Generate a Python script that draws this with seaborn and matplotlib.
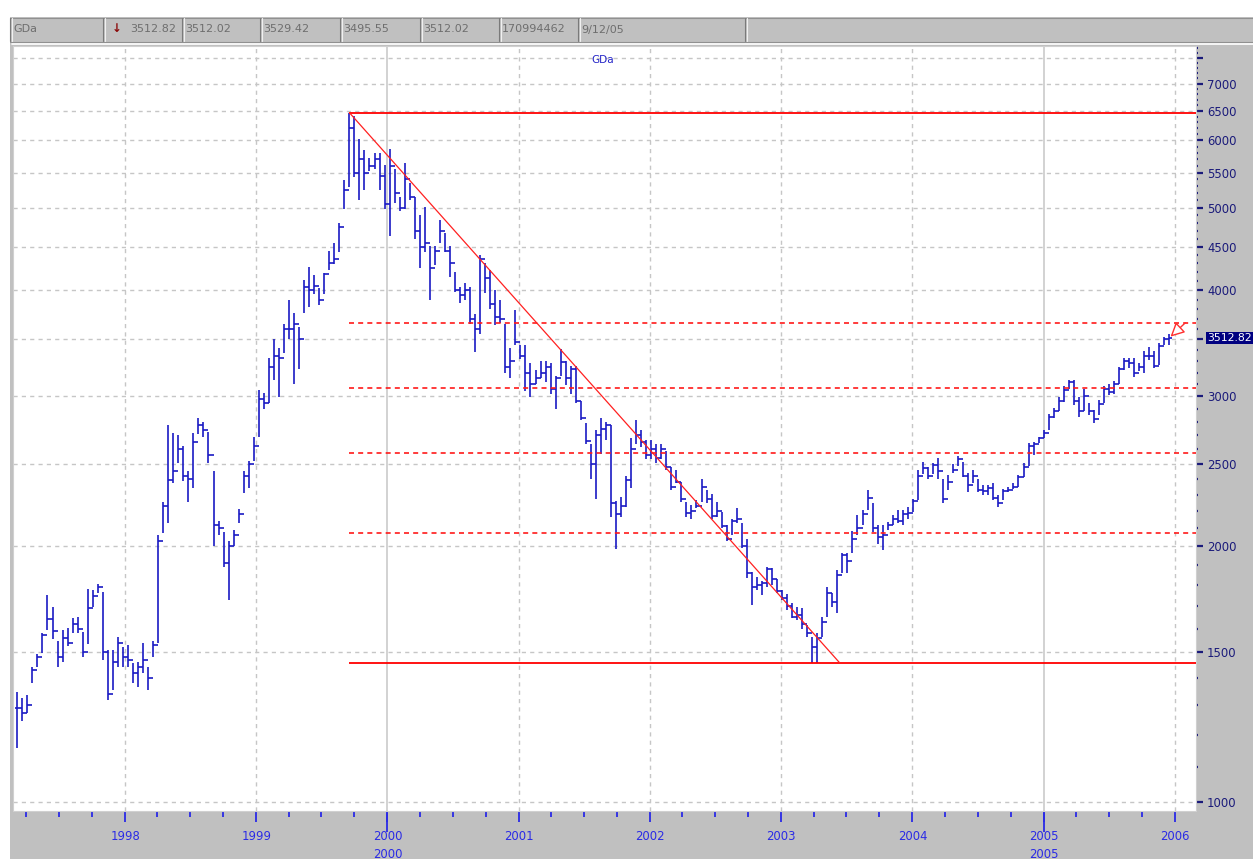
import numpy as np
import pandas as pd
import seaborn as sns
import matplotlib.pyplot as plt
import matplotlib.dates as mdates
from matplotlib import font_manager, ticker
from matplotlib.patches import Rectangle
from matplotlib.lines import Line2D

sns.set_theme(style='white')

names = {f.name for f in font_manager.fontManager.ttflist}
if 'Liberation Sans Narrow' in names:
    FONT, FS = 'Liberation Sans Narrow', 11
else:
    FONT, FS = 'DejaVu Sans', 8.4
plt.rcParams['font.family'] = [FONT, 'DejaVu Sans']

# --- data: bi-weekly bars ---
start_date = '1997-03-07'

high = [1347, 1324, 1335, 1443, 1495, 1579, 1752, 1697, 1548, 1594,
        1603, 1644, 1652, 1587, 1782, 1774, 1806, 1767, 1510, 1510,
        1565, 1522, 1530, 1456, 1462, 1537, 1443, 1545, 2060, 2255,
        2780, 2716, 2705, 2620, 2450, 2716, 2830, 2800, 2725, 2450,
        2140, 2080, 2030, 2090, 2210, 2450, 2520, 2690, 3050, 3030,
        3330, 3500, 3420, 3650, 3896, 3760, 3620, 4110, 4265, 4170,
        4020, 4190, 4450, 4550, 4800, 5390, 6470, 6420, 6030, 5848,
        5720, 5800, 5800, 5620, 5860, 5550, 5150, 5650, 5350, 5150,
        4900, 5010, 4510, 4510, 4840, 4670, 4510, 4205, 4040, 4077,
        4040, 3755, 4400, 4305, 4230, 4000, 3900, 3650, 3420, 3790,
        3445, 3445, 3285, 3220, 3300, 3300, 3285, 3170, 3410, 3300,
        3255, 3255, 2960, 2790, 2640, 2740, 2830, 2800, 2780, 2260,
        2286, 2415, 2680, 2815, 2740, 2665, 2665, 2640, 2640, 2590,
        2480, 2460, 2380, 2255, 2235, 2265, 2400, 2330, 2305, 2255,
        2195, 2117, 2155, 2215, 2128, 2040, 1866, 1840, 1820, 1890,
        1885, 1830, 1775, 1758, 1713, 1697, 1690, 1615, 1565, 1580,
        1652, 1790, 1760, 1875, 1961, 1961, 2085, 2175, 2205, 2330,
        2245, 2117, 2117, 2137, 2175, 2205, 2205, 2225, 2275, 2458,
        2510, 2480, 2505, 2540, 2400, 2425, 2495, 2550, 2515, 2435,
        2455, 2400, 2360, 2360, 2370, 2296, 2337, 2348, 2370, 2425,
        2505, 2642, 2655, 2690, 2740, 2860, 2905, 2995, 3085, 3140,
        3140, 2995, 3060, 2950, 2893, 2975, 3085, 3100, 3125, 3250,
        3330, 3330, 3330, 3280, 3395, 3425, 3395, 3470, 3520, 3550]

low = [1157, 1244, 1272, 1379, 1443, 1497, 1594, 1556, 1443, 1460,
       1525, 1579, 1579, 1482, 1534, 1697, 1760, 1470, 1318, 1355,
       1443, 1443, 1443, 1379, 1366, 1418, 1355, 1480, 1540, 2071,
       2130, 2370, 2505, 2385, 2255, 2340, 2710, 2690, 2505, 2000,
       2060, 1890, 1728, 2000, 2130, 2310, 2340, 2520, 2690, 2900,
       2950, 3140, 2995, 3370, 3500, 3100, 3230, 3760, 3820, 3960,
       3840, 3960, 4230, 4290, 4430, 4990, 5290, 5430, 5108, 5250,
       5520, 5550, 5250, 4990, 4630, 5060, 4960, 4990, 5108, 4590,
       4245, 4430, 3896, 4280, 4540, 4430, 4150, 3985, 3860, 3896,
       3650, 3380, 3556, 3970, 3800, 3640, 3660, 3195, 3150, 3445,
       3320, 3045, 2995, 3105, 3150, 3120, 3020, 2900, 3170, 3090,
       3020, 2950, 2815, 2640, 2400, 2275, 2570, 2665, 2165, 1987,
       2165, 2225, 2340, 2640, 2616, 2530, 2530, 2506, 2530, 2460,
       2330, 2370, 2255, 2165, 2155, 2215, 2255, 2245, 2155, 2165,
       2100, 2030, 2060, 2128, 1990, 1835, 1705, 1775, 1750, 1790,
       1800, 1760, 1730, 1680, 1645, 1637, 1600, 1565, 1457, 1457,
       1565, 1652, 1698, 1668, 1860, 1860, 1961, 2060, 2117, 2205,
       2078, 2010, 1980, 2090, 2117, 2128, 2117, 2155, 2195, 2265,
       2430, 2400, 2430, 2400, 2250, 2330, 2440, 2485, 2413, 2316,
       2370, 2316, 2296, 2296, 2265, 2226, 2265, 2316, 2337, 2348,
       2413, 2485, 2560, 2642, 2680, 2740, 2830, 2880, 2955, 3060,
       2930, 2840, 2880, 2850, 2790, 2855, 2945, 3010, 3020, 3100,
       3225, 3240, 3164, 3215, 3195, 3311, 3240, 3270, 3450, 3450]

close = [1289, 1272, 1300, 1430, 1480, 1570, 1640, 1590, 1480, 1560,
         1540, 1620, 1600, 1500, 1690, 1745, 1790, 1500, 1340, 1460,
         1540, 1480, 1470, 1420, 1440, 1470, 1400, 1530, 2030, 2230,
         2395, 2450, 2600, 2420, 2400, 2650, 2780, 2740, 2560, 2120,
         2100, 1910, 2000, 2060, 2180, 2420, 2500, 2620, 2980, 2950,
         3250, 3350, 3330, 3600, 3600, 3650, 3500, 4030, 4000, 4050,
         3900, 4180, 4300, 4350, 4750, 5250, 6200, 5500, 5700, 5500,
         5600, 5700, 5450, 5050, 5600, 5200, 5000, 5400, 5150, 4700,
         4500, 4550, 4250, 4450, 4700, 4450, 4300, 4000, 3950, 4000,
         3700, 3600, 4350, 4130, 3850, 3720, 3700, 3250, 3300, 3480,
         3350, 3200, 3100, 3150, 3200, 3250, 3060, 3150, 3290, 3150,
         3230, 2960, 2830, 2660, 2500, 2700, 2750, 2780, 2250, 2180,
         2230, 2390, 2600, 2700, 2650, 2560, 2600, 2540, 2600, 2480,
         2350, 2380, 2270, 2190, 2200, 2230, 2350, 2270, 2170, 2200,
         2110, 2040, 2140, 2150, 2000, 1860, 1790, 1800, 1810, 1880,
         1830, 1770, 1740, 1700, 1650, 1660, 1620, 1580, 1520, 1560,
         1630, 1760, 1720, 1850, 1950, 1920, 2040, 2100, 2180, 2280,
         2100, 2050, 2060, 2120, 2150, 2140, 2180, 2190, 2260, 2420,
         2470, 2420, 2490, 2450, 2270, 2380, 2460, 2530, 2420, 2360,
         2420, 2330, 2320, 2340, 2280, 2250, 2320, 2330, 2350, 2410,
         2480, 2620, 2640, 2680, 2720, 2840, 2880, 2960, 3050, 3120,
         2960, 2880, 3000, 2880, 2820, 2940, 3060, 3040, 3100, 3230,
         3300, 3280, 3200, 3250, 3350, 3350, 3260, 3440, 3500, 3512.82]

trend_end = '2003-06-13'
fib_ratios = [0.236, 0.382, 0.5, 0.618]

header_fields = ['GDa', '3512.82', '3512.02', '3529.42', '3495.55',
                 '3512.02', '170994462', '9/12/05']
years = list(range(1998, 2007))
price_ticks = list(range(1000, 8000, 500))
hidden_ticks = [3500, 7500]

# --- figure ---
W, H = 1253, 859
BLUE = '#1a1ac4'
NAVY = '#1a1a7a'
AXBLUE = '#2a2ae6'
GRID = '#c6c6c6'

fig = plt.figure(figsize=(W / 100, H / 100), dpi=100, facecolor='white')


def fx(p):
    return p / W


def fy(p):
    return 1 - p / H


fig.patches.append(Rectangle((fx(10), 0), 1 - fx(10), fy(17), transform=fig.transFigure,
                             fc='#c0c0c0', ec='none', zorder=-10))
# header strip
fig.lines.append(Line2D([fx(10), 1], [fy(17.5), fy(17.5)], transform=fig.transFigure, color='#909090', lw=0.8))
fig.lines.append(Line2D([fx(10), 1], [fy(41.5), fy(41.5)], transform=fig.transFigure, color='#909090', lw=0.8))
fig.lines.append(Line2D([fx(12), 1], [fy(43.5), fy(43.5)], transform=fig.transFigure, color='#ffffff', lw=1.2))
for xx in [10, 103, 182, 260, 340, 420, 499, 578, 745]:
    fig.lines.append(Line2D([fx(xx), fx(xx)], [fy(18), fy(41)], transform=fig.transFigure,
                            color='#7a7a7a', lw=0.8))
    fig.lines.append(Line2D([fx(xx + 1.5), fx(xx + 1.5)], [fy(18), fy(41)], transform=fig.transFigure,
                            color='#f0f0f0', lw=0.8))

hx = [13, 130, 185, 263, 343, 423, 502, 581]
for txt, xx in zip(header_fields, hx):
    fig.text(fx(xx), fy(29.5), txt, color='#6e6e6e', fontsize=FS * 0.95, ha='left', va='center')
fig.text(fx(112), fy(29), '\u2193', color='#8b0a0a', fontsize=FS, ha='left', va='center',
         family='DejaVu Sans', fontweight='bold')

ax = fig.add_axes([fx(13), fy(811), fx(1196) - fx(13), fy(46) - fy(811)])
ax.set_facecolor('white')
for s in ax.spines.values():
    s.set_color('#d0d0d0')
    s.set_linewidth(0.8)

dates = pd.date_range(start_date, periods=len(close), freq='14D')
x = mdates.date2num(dates)
x_left = mdates.date2num(pd.Timestamp('1997-02-23'))
x_right = mdates.date2num(pd.Timestamp('2006-02-28'))

ax.set_yscale('log')
ax.set_ylim(976, 7750)
ax.set_xlim(x_left, x_right)

# grid
for v in price_ticks:
    ax.axhline(v, color=GRID, lw=1, ls=(0, (3, 3)), zorder=1)
year_x = [mdates.date2num(pd.Timestamp(f'{y}-01-01')) for y in years]
for y, xv in zip(years, year_x):
    if y in (2000, 2005):
        ax.axvline(xv, color='#d2d2d2', lw=1.4, zorder=1)
    else:
        ax.axvline(xv, color=GRID, lw=1, ls=(0, (3, 3)), zorder=1)

# price bars: high-low stem, tick left at previous close, tick right at close
high_a = np.array(high, dtype=float)
low_a = np.array(low, dtype=float)
close_a = np.array(close, dtype=float)
prev_close = np.r_[close_a[0], close_a[:-1]]
ax.vlines(x, low_a, high_a, color=BLUE, lw=1.2, zorder=3)
ax.hlines(close_a, x, x + 7, color=BLUE, lw=1.2, zorder=3)
ax.hlines(prev_close, x - 7, x, color=BLUE, lw=1.2, zorder=3)

# red study lines
peak_i = int(high_a.argmax())
hi = high_a[peak_i]
lo = low_a[peak_i:].min()
peak_x = x[peak_i]
ax.hlines([hi, lo], peak_x, x_right, color='#ff0000', lw=1.3, zorder=4)
levels = 10 ** (np.log10(lo) + np.array(fib_ratios) * (np.log10(hi) - np.log10(lo)))
ax.hlines(levels, peak_x, x_right, color='#ff1a1a', lw=1.2, linestyles=(0, (3, 2.5)), zorder=4)
trend_x = [peak_x, mdates.date2num(pd.Timestamp(trend_end))]
sns.lineplot(x=trend_x, y=[hi, lo], color='#ff2020', lw=0.9, ax=ax, zorder=4)

# hollow arrow pointing at the last bar
ax.annotate('', xy=(x[-1] + 3, close_a[-1] * 1.004), xytext=(15, 14), textcoords='offset pixels',
            arrowprops=dict(arrowstyle='-|>,head_length=0.7,head_width=0.35', fc='white',
                            ec='#ff3030', lw=1.0, shrinkA=0, shrinkB=0), zorder=5)

fig.text(fx(603), fy(60), 'GDa', color='#2626c8', fontsize=FS * 0.9, ha='center', va='center')

# right price axis
ax.yaxis.tick_right()
ax.yaxis.set_major_locator(ticker.FixedLocator(price_ticks))
ax.yaxis.set_major_formatter(ticker.FixedFormatter(
    ['' if v in hidden_ticks else str(v) for v in price_ticks]))
minor = [v for v in range(1000, 7800, 100) if v % 500]
ax.yaxis.set_minor_locator(ticker.FixedLocator(minor))
ax.yaxis.set_minor_formatter(ticker.NullFormatter())
ax.tick_params(axis='y', which='major', direction='out', length=5, width=1.6, color=NAVY,
               labelcolor=NAVY, labelsize=FS, pad=3, left=False, right=True)
ax.tick_params(axis='y', which='minor', direction='out', length=1.6, width=1.6, color=NAVY,
               left=False, right=True)
ax.annotate(f'{close_a[-1]:.2f}', xy=(1, close_a[-1]), xycoords=('axes fraction', 'data'),
            xytext=(11, 0), textcoords='offset pixels', color='white', fontsize=FS * 0.93,
            ha='left', va='center', annotation_clip=False,
            bbox=dict(boxstyle='square,pad=0.1', fc='#000080', ec='none'))

# bottom date axis
ax.xaxis.set_major_locator(ticker.FixedLocator(year_x))
ax.xaxis.set_major_formatter(ticker.FixedFormatter([str(y) for y in years]))
quarters = [mdates.date2num(pd.Timestamp(f'{y}-{m:02d}-01'))
            for y in range(1997, 2006) for m in (4, 7, 10)]
ax.xaxis.set_minor_locator(ticker.FixedLocator(quarters))
ax.tick_params(axis='x', which='major', direction='out', length=8, width=1.3, color=AXBLUE,
               labelcolor=AXBLUE, labelsize=FS, pad=6, bottom=True)
ax.tick_params(axis='x', which='minor', direction='out', length=4, width=1.3, color=AXBLUE,
               bottom=True)
for y, xv in zip(years, year_x):
    if y in (2000, 2005):
        ax.vlines(xv, -0.027, 0, transform=ax.get_xaxis_transform(), clip_on=False,
                  color=AXBLUE, lw=1.3)
        ax.text(xv, -0.057, str(y), transform=ax.get_xaxis_transform(), color=AXBLUE,
                fontsize=FS, ha='center', va='center', clip_on=False)

fig.savefig('out.png', dpi=100, facecolor=fig.get_facecolor())
